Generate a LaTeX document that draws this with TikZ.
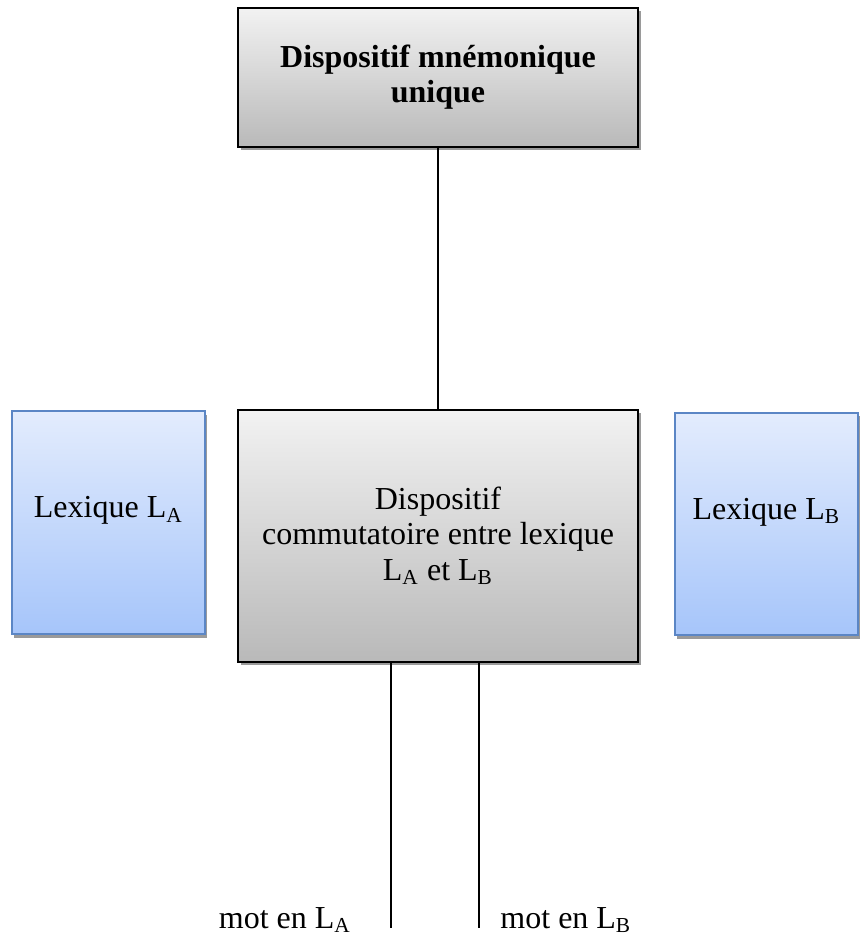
\documentclass[tikz,border=0pt]{standalone}
\usepackage{fontspec}
\setmainfont{Liberation Serif}
\usetikzlibrary{
    positioning,
    calc,
    shadows
}
\definecolor{greytop}{HTML}{F2F2F2}
\definecolor{greybot}{HTML}{B9B9B9}
\definecolor{lextop}{HTML}{E3ECFD}
\definecolor{lexbot}{HTML}{A6C5FA}
\definecolor{lexframe}{HTML}{5B86C5}
\definecolor{shadowcol}{HTML}{9A9A9A}

\begin{document}
\begin{tikzpicture}[
    x=0.375pt, y=-0.375pt,
    font=\fontsize{12}{13.2}\selectfont,
    % ── Node Styles ──
    greybox/.style={
        draw=black, line width=0.75pt,
        top color=greytop, bottom color=greybot,
        align=center, inner sep=2pt,
        general shadow={fill=shadowcol, shadow xshift=1.1pt, shadow yshift=-1.1pt}
    },
    lexbox/.style={
        draw=lexframe, line width=0.75pt,
        top color=lextop, bottom color=lexbot,
        align=center, inner sep=2pt,
        minimum height=83.5pt,
        general shadow={fill=shadowcol, shadow xshift=0.8pt, shadow yshift=-1.4pt}
    },
    % ── Line Styles ──
    link/.style={line width=0.6pt},
    % ── Label Styles ──
    motlabel/.style={inner sep=0pt, anchor=base},
]

\useasboundingbox (0, 0) rectangle (860, 937);

% ────────────────────────────────
%  MEMORY DEVICE (top)
% ────────────────────────────────
\node[greybox, minimum width=150pt, minimum height=52pt] (memo) at (438, 77.5) {
    \bfseries Dispositif mnémonique\\
    \bfseries unique
};

% ────────────────────────────────
%  SWITCHING DEVICE + LEXICONS
% ────────────────────────────────
\node[greybox, minimum width=150pt, minimum height=94.5pt] (switch) at (438, 536) {
    Dispositif\\
    commutatoire entre lexique\\
    L\textsubscript{A} et L\textsubscript{B}
};

\node[lexbox, minimum width=72.4pt] (lexA) at (108.5, 522.5) {};
\node at ($(lexA.center)+(0,-12)$) (lexAtxt) {Lexique L\textsubscript{A}};

\node[lexbox, minimum width=68.6pt] (lexB) at (766.5, 524) {};
\node at ($(lexB.center)+(0,-12)$) (lexBtxt) {Lexique L\textsubscript{B}};

\draw[link] (memo.south) -- (switch.north);

% ────────────────────────────────
%  OUTPUT WORDS (bottom)
% ────────────────────────────────
\coordinate (endA) at (391, 928);
\coordinate (endB) at (479, 928);

\draw[link] (switch.south -| endA) -- (endA);
\draw[link] (switch.south -| endB) -- (endB);

\node[motlabel] (motA) at (285, 928) {mot en L\textsubscript{A}};
\node[motlabel] (motB) at (566, 928) {mot en L\textsubscript{B}};

\end{tikzpicture}
\end{document}
